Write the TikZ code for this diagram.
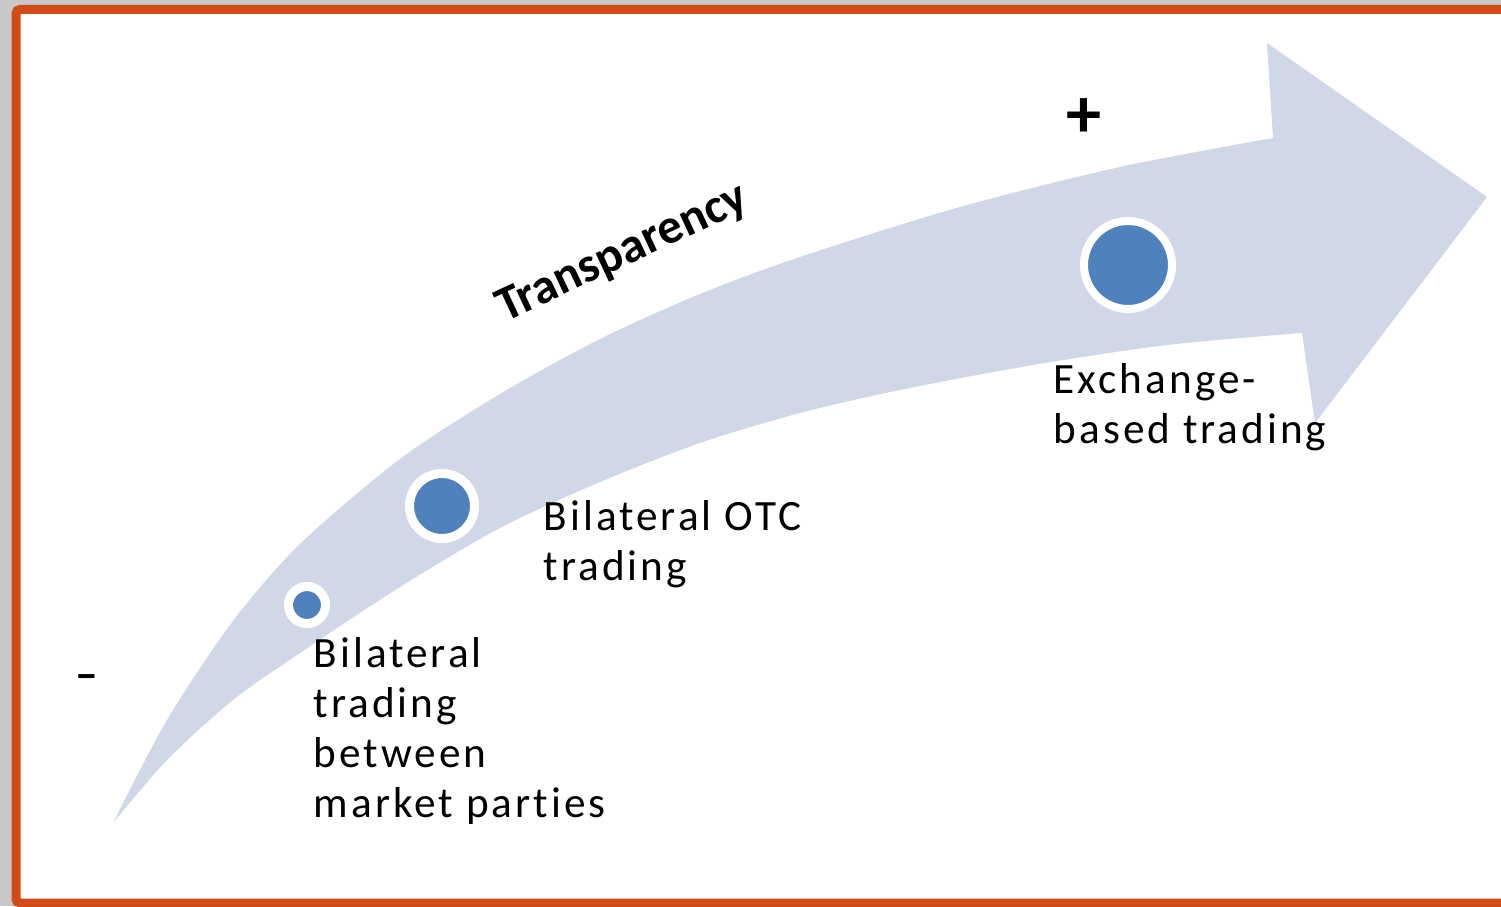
\documentclass[tikz,border=0pt]{standalone}
\usepackage{fontspec}
\setmainfont{Carlito}[Ligatures={TeX,NoCommon}]
\usetikzlibrary{positioning}
\definecolor{frameorange}{RGB}{211,74,24}
\definecolor{bandblue}{RGB}{208,216,232}
\definecolor{dotblue}{RGB}{79,129,189}
\definecolor{pagegray}{RGB}{200,200,200}
\tikzset{
	stagedot/.style={circle, fill=dotblue, draw=white, inner sep=0pt},
	stagelabel/.style={anchor=north west, inner sep=0pt, align=left,
		font=\fontsize{12.3}{14.2}\selectfont\addfontfeature{LetterSpace=7}},
}

\begin{document}
\begin{tikzpicture}
	%%%%% START %%%%%
	\useasboundingbox (0, 0) rectangle (15.01, 9.06);
	\clip (0, 0) rectangle (15.01, 9.06);
	
	\fill[pagegray] (0, 0) rectangle (15.01, 9.06);
	\draw[line width=0.09cm, color=frameorange, fill=white, rounded corners=0.04cm] (0.16, 0.03) rectangle (15.3, 8.965);
	
	% curved arrow
	\fill[bandblue] plot[smooth] coordinates {(1.13, 0.83) (1.67, 1.86) (2.33, 2.85) (3.00, 3.62) (4.00, 4.47) (5.00, 5.12) (6.00, 5.67) (7.00, 6.12) (8.00, 6.49) (9.60, 6.99) (11.20, 7.39) (12.73, 7.68)}
		-- (12.67, 8.63) -- (14.87, 7.09) -- (13.15, 4.83)
		-- plot[smooth] coordinates {(13.02, 5.73) (11.67, 5.61) (10.33, 5.41) (9.00, 5.16) (8.00, 4.93) (7.00, 4.63) (6.00, 4.24) (5.00, 3.78) (4.00, 3.19) (3.00, 2.53) (2.33, 2.06) (1.67, 1.46) (1.13, 0.83)}
		-- cycle;
	
	\node[stagedot, minimum size=0.37cm, line width=0.09cm] (bilat) at (3.07, 3.01) {};
	\node[stagedot, minimum size=0.65cm, line width=0.09cm] (otc) at (4.42, 4.00) {};
	\node[stagedot, minimum size=0.88cm, line width=0.08cm] (exch) at (11.28, 6.41) {};
	
	\node[stagelabel] (bilatlabel) at (3.13, 2.69) {Bilateral\\trading\\between\\market parties};
	\node[stagelabel] (otclabel) at (5.43, 4.06) {Bilateral OTC\\trading};
	\node[stagelabel] (exchlabel) at (10.53, 5.43) {Exchange-\\based trading};
	
	\node[rotate=25, font=\bfseries\fontsize{14}{16}\selectfont] (transp) at (6.23, 6.52) {Transparency};
	
	\node[font=\bfseries\fontsize{20}{24}\selectfont] (plus) at (10.84, 7.88) {+};
	\node[font=\bfseries\fontsize{13}{16}\selectfont] (minus) at (0.87, 2.24) {–};
	
	%%%%% END %%%%%
\end{tikzpicture}
\end{document}
